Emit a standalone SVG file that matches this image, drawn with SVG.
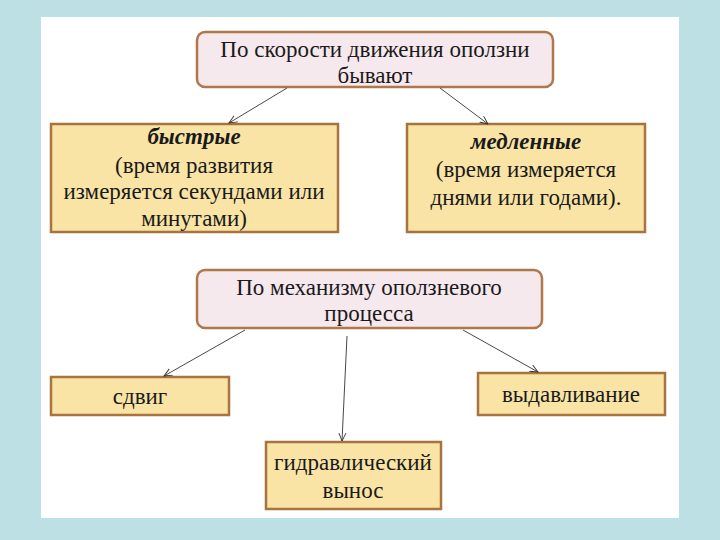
<svg xmlns="http://www.w3.org/2000/svg" width="720" height="540" viewBox="0 0 720 540">
<defs>
<marker id="ah" viewBox="0 0 10 10" refX="9" refY="5" markerWidth="9" markerHeight="9" orient="auto" markerUnits="userSpaceOnUse">
<path d="M0,1 L9,5 L0,9" fill="none" stroke="#333" stroke-width="1"/>
</marker>
<style>
.hd{fill:#f6e9ee;stroke:#b0784a;stroke-width:2.5}
.bx{fill:#f9e4a5;stroke:#a8733f;stroke-width:2.5}
text{font-family:"Liberation Serif","DejaVu Serif",serif;font-size:23px;fill:#1a1a1a;text-anchor:middle}
.b{font-weight:bold;font-style:italic}
.cn line{stroke:#333;stroke-width:0.9;marker-end:url(#ah)}
</style>
</defs>
<rect x="0" y="0" width="720" height="540" fill="#bde0e4"/>
<rect x="41" y="17" width="638" height="501" fill="#ffffff"/>
<g id="n1">
<rect class="hd" x="197" y="32" width="356" height="55" rx="8"/>
<text x="375" y="57">По скорости движения оползни</text>
<text x="375" y="83">бывают</text>
</g>
<g id="n2">
<rect class="bx" x="51" y="124" width="287" height="108"/>
<text class="b" x="194" y="144">быстрые</text>
<text x="194" y="173">(время развития</text>
<text x="194" y="199">измеряется  секундами или</text>
<text x="194" y="226">минутами)</text>
</g>
<g id="n3">
<rect class="bx" x="407" y="124" width="238" height="108"/>
<text class="b" x="526" y="149">медленные</text>
<text x="526" y="177">(время измеряется</text>
<text x="526" y="205">днями или годами).</text>
</g>
<g id="n4">
<rect class="hd" x="197" y="270" width="345" height="58" rx="8"/>
<text x="369" y="295">По механизму оползневого</text>
<text x="369" y="321">процесса</text>
</g>
<g id="n5">
<rect class="bx" x="51" y="377" width="178" height="38"/>
<text x="140" y="404">сдвиг</text>
</g>
<g id="n6">
<rect class="bx" x="478" y="373" width="187" height="42"/>
<text x="571" y="402">выдавливание</text>
</g>
<g id="n7">
<rect class="bx" x="266" y="442" width="175" height="67"/>
<text x="353" y="470">гидравлический</text>
<text x="353" y="498">вынос</text>
</g>
<g class="cn" id="connectors">
<line x1="287" y1="88" x2="229" y2="123"/>
<line x1="440" y1="88" x2="488" y2="124"/>
<line x1="245" y1="330" x2="164" y2="376"/>
<line x1="347" y1="336" x2="342" y2="441"/>
<line x1="463" y1="330" x2="538" y2="372"/>
</g>
</svg>
